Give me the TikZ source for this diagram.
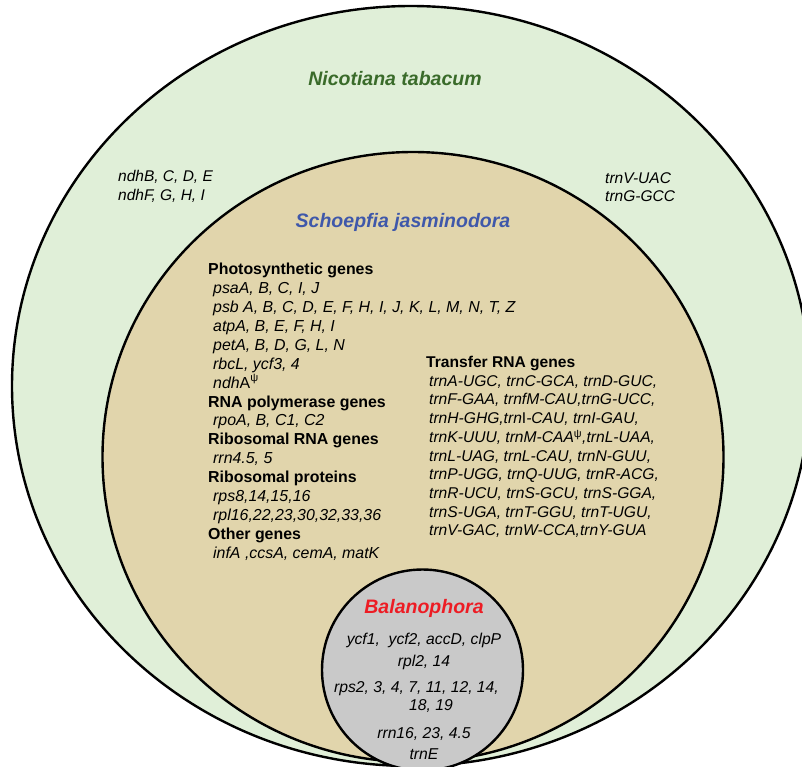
\documentclass[tikz,border=0pt]{standalone}
\usepackage{fontspec}
\setmainfont{Liberation Sans}
\usetikzlibrary{positioning, shapes.geometric}

\definecolor{tabacumfill}{HTML}{E0EFD8}
\definecolor{schoepfiafill}{HTML}{E1D5AC}
\definecolor{balanofill}{HTML}{C9C9C9}
\definecolor{tabacumtext}{HTML}{3A6B2A}
\definecolor{schoepfiatext}{HTML}{3F58AA}
\definecolor{balanotext}{HTML}{ED1C24}

\newcommand{\genegroup}[1]{\textup{\textbf{#1}}}
\newcommand{\pseudo}{\textsuperscript{\upshape ψ}}

\begin{document}
\begin{tikzpicture}[x=1pt, y=-1pt,
  species/.style={draw, ellipse, line width=2.4pt, inner sep=0pt},
  title/.style={font=\fontsize{19.5}{22}\selectfont\bfseries\itshape},
  genes/.style={align=left, inner sep=0pt, anchor=north west,
    font=\fontsize{15.5}{18.9}\selectfont\itshape}
]
\useasboundingbox (0,0) rectangle (802,766);

% Circle 1: Nicotiana tabacum
\node[species, fill=tabacumfill, minimum width=798pt, minimum height=760pt]
  (tabacum) at (411,386) {};

% Circle 2: Schoepfia jasminodora
\node[species, fill=schoepfiafill, minimum width=621pt, minimum height=610pt]
  (schoepfia) at (413,457) {};

% Circle 3: Balanophora
\node[species, fill=balanofill, minimum width=201pt, minimum height=201pt]
  (balano) at (422.5,670) {};

% Titles
\node[title, text=tabacumtext, anchor=base] (tabacumtitle) at (395,85.5)
  {Nicotiana tabacum};
\node[title, text=schoepfiatext, anchor=base] (schoepfiatitle) at (403,227)
  {Schoepfia jasminodora};
\node[title, text=balanotext, anchor=base] (balanotitle) at (424,613.5)
  {Balanophora};

% Genes lost only outside Schoepfia
\node[genes] (ndhgenes) at (118,170)
  {ndhB, C, D, E\\ndhF, G, H, I};
\node[genes] (trnouter) at (605,172)
  {trnV-UAC\\trnG-GCC};

% Schoepfia: left column
\node[genes, font=\fontsize{15.9}{18.9}\selectfont\itshape] (schoepfialeft) at (208,263) {
  \genegroup{Photosynthetic genes}\\
  \hspace*{5pt}psaA, B, C, I, J\\
  \hspace*{5pt}psb A, B, C, D, E, F, H, I, J, K, L, M, N, T, Z\\
  \hspace*{5pt}atpA, B, E, F, H, I\\
  \hspace*{5pt}petA, B, D, G, L, N\\
  \hspace*{5pt}rbcL, ycf3, 4\\
  \hspace*{5pt}ndh\textup{A}\pseudo\\
  \genegroup{RNA polymerase genes}\\
  \hspace*{5pt}rpoA, B, C1, C2\\
  \genegroup{Ribosomal RNA genes}\\
  \hspace*{5pt}rrn4.5, 5\\
  \genegroup{Ribosomal proteins}\\
  \hspace*{5pt}rps8,14,15,16\\
  \hspace*{5pt}rpl16,22,23,30,32,33,36\\
  \genegroup{Other genes}\\
  \hspace*{5pt}infA ,ccsA, cemA, matK};

% Schoepfia: right column
\node[genes, font=\fontsize{15.6}{18.7}\selectfont\itshape] (schoepfiaright) at (426,356) {
  \genegroup{Transfer RNA genes}\\
  \hspace*{3pt}trnA-UGC, trnC-GCA, trnD-GUC,\\
  \hspace*{3pt}trnF-GAA, trnfM-CAU,trnG-UCC,\\
  \hspace*{3pt}trnH-GHG,trn\textup{I}-CAU, trnI-GAU,\\
  \hspace*{3pt}trnK-UUU, trnM-CAA\pseudo,trnL-UAA,\\
  \hspace*{3pt}trnL-UAG, trnL-CAU, trnN-GUU,\\
  \hspace*{3pt}trnP-UGG, trnQ-UUG, trnR-ACG,\\
  \hspace*{3pt}trnR-UCU, trnS-GCU, trnS-GGA,\\
  \hspace*{3pt}trnS-UGA, trnT-GGU, trnT-UGU,\\
  \hspace*{3pt}trnV-GAC, trnW-CCA,trnY-GUA};

% Balanophora genes
\node[genes, align=center, anchor=north, font=\fontsize{15.7}{18}\selectfont\itshape]
  (balanogenes) at (424,633) {
  ycf1,\ \ ycf2, accD, clpP\\[4pt]
  rpl2, 14\\[8pt]
  \hspace*{-15pt}rps2, 3, 4, 7, 11, 12, 14,\\
  \hspace*{14pt}18, 19\\[10pt]
  rrn16, 23, 4.5\\[3pt]
  trnE};

\end{tikzpicture}
\end{document}
